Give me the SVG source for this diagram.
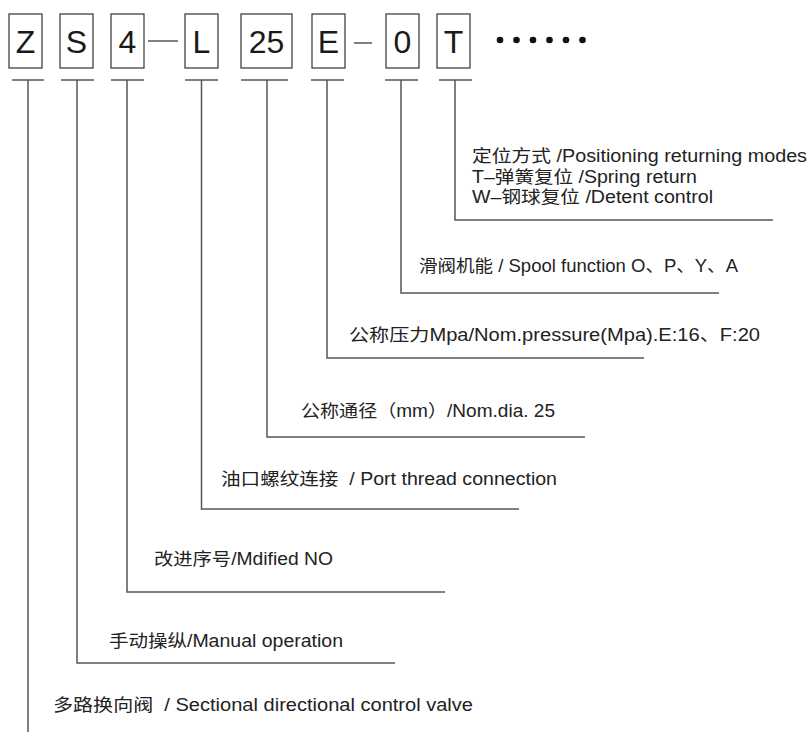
<svg xmlns="http://www.w3.org/2000/svg" width="811" height="732" viewBox="0 0 811 732">
<style>
.box{fill:#fff;stroke:#333;stroke-width:1.2}
.code{font-family:"Liberation Sans","Noto Sans CJK SC",sans-serif;font-size:32px;fill:#1a1a1a;text-anchor:middle}
.lbl{font-family:"Liberation Sans","Noto Sans CJK SC",sans-serif;font-size:17.5px;fill:#222}
.ln{fill:none;stroke:#555;stroke-width:1.5}
.dot{fill:#111}
</style>
<rect width="811" height="732" fill="#fff"/>
<g id="node-Z"><rect class="box" x="9" y="14" width="33" height="54"/><text class="code" x="25.5" y="53">Z</text></g>
<g id="node-S"><rect class="box" x="60" y="14" width="33" height="54"/><text class="code" x="76.5" y="53">S</text></g>
<g id="node-4"><rect class="box" x="111" y="14" width="33" height="54"/><text class="code" x="127.5" y="53">4</text></g>
<g id="node-L"><rect class="box" x="185" y="14" width="33" height="54"/><text class="code" x="201.5" y="53">L</text></g>
<g id="node-25"><rect class="box" x="241" y="14" width="51" height="54"/><text class="code" x="266.5" y="53">25</text></g>
<g id="node-E"><rect class="box" x="312" y="14" width="33" height="54"/><text class="code" x="328.5" y="53">E</text></g>
<g id="node-0"><rect class="box" x="386" y="14" width="33" height="54"/><text class="code" x="402.5" y="53">0</text></g>
<g id="node-T"><rect class="box" x="437" y="14" width="33" height="54"/><text class="code" x="453.5" y="53">T</text></g>
<g id="dots">
<circle class="dot" cx="500" cy="40" r="3.3"/><circle class="dot" cx="516.5" cy="40" r="3.3"/><circle class="dot" cx="533" cy="40" r="3.3"/><circle class="dot" cx="549.5" cy="40" r="3.3"/><circle class="dot" cx="566" cy="40" r="3.3"/><circle class="dot" cx="582.5" cy="40" r="3.3"/>
</g>
<g id="separators">
<path class="ln" d="M148 41H178"/>
<path class="ln" d="M354 43H372"/>
</g>
<g id="connectors">
<path class="ln" d="M12 80H44M28 80V732"/>
<path class="ln" d="M61 80H94M77 80V663H395"/>
<path class="ln" d="M111 80H144M127 80V592H445"/>
<path class="ln" d="M185 80H218M201.5 80V509H519"/>
<path class="ln" d="M241 80H288M267 80V437H585"/>
<path class="ln" d="M311 80H344M327 80V358H644"/>
<path class="ln" d="M385 80H418M401 80V293H719"/>
<path class="ln" d="M439 80H472M455 80V220H773"/>
</g>
<g id="label-T">
<text class="lbl" x="472" y="162" textLength="335" lengthAdjust="spacingAndGlyphs">定位方式 /Positioning returning modes</text>
<text class="lbl" x="472" y="183" textLength="225" lengthAdjust="spacingAndGlyphs">T–弹簧复位 /Spring return</text>
<text class="lbl" x="472" y="203" textLength="241" lengthAdjust="spacingAndGlyphs">W–钢球复位 /Detent control</text>
</g>
<g id="label-0"><text class="lbl" x="419" y="272" textLength="319" lengthAdjust="spacingAndGlyphs">滑阀机能 / Spool function O、P、Y、A</text></g>
<g id="label-E"><text class="lbl" x="349" y="341" textLength="411" lengthAdjust="spacingAndGlyphs">公称压力Mpa/Nom.pressure(Mpa).E:16、F:20</text></g>
<g id="label-25"><text class="lbl" x="301" y="417" textLength="254" lengthAdjust="spacingAndGlyphs">公称通径（mm）/Nom.dia. 25</text></g>
<g id="label-L"><text class="lbl" x="221" y="485" textLength="336" lengthAdjust="spacingAndGlyphs" xml:space="preserve">油口螺纹连接  / Port thread connection</text></g>
<g id="label-4"><text class="lbl" x="154" y="565" textLength="179" lengthAdjust="spacingAndGlyphs">改进序号/Mdified NO</text></g>
<g id="label-S"><text class="lbl" x="109" y="647" textLength="234" lengthAdjust="spacingAndGlyphs">手动操纵/Manual operation</text></g>
<g id="label-Z"><text class="lbl" x="53" y="711" textLength="420" lengthAdjust="spacingAndGlyphs" xml:space="preserve">多路换向阀  / Sectional directional control valve</text></g>
</svg>
